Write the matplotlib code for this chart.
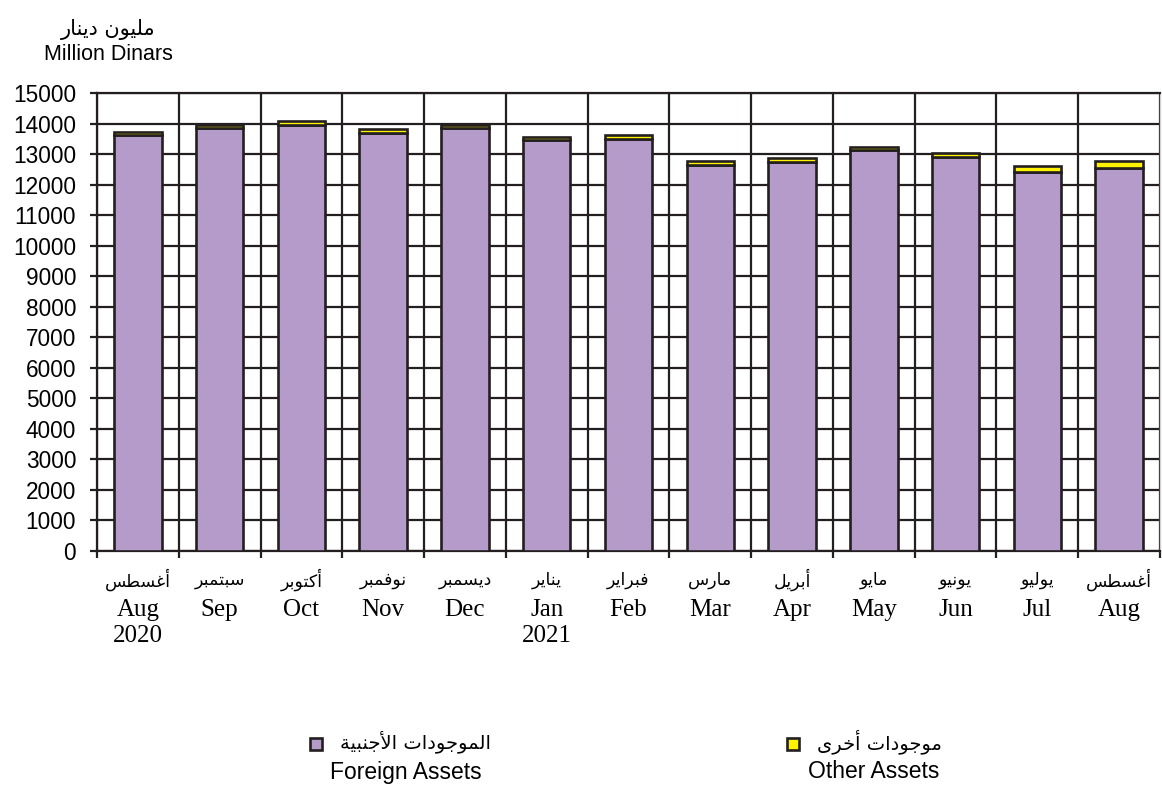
import matplotlib
matplotlib.use("Agg")
import matplotlib.pyplot as plt
from matplotlib.patches import Rectangle
from matplotlib.transforms import blended_transform_factory

# data (million dinars)
months_ar = ["أغسطس", "سبتمبر", "أكتوبر", "نوفمبر", "ديسمبر", "يناير", "فبراير",
             "مارس", "أبريل", "مايو", "يونيو", "يوليو", "أغسطس"]
months_en = ["Aug", "Sep", "Oct", "Nov", "Dec", "Jan", "Feb",
             "Mar", "Apr", "May", "Jun", "Jul", "Aug"]
years = {0: "2020", 5: "2021"}
foreign_assets = [13620, 13870, 13950, 13700, 13850, 13450, 13480,
                  12650, 12750, 13120, 12900, 12400, 12560]
other_assets = [100, 80, 120, 110, 100, 110, 140,
                120, 130, 110, 140, 210, 210]

PURPLE = "#B59BC9"
YELLOW = "#FFF200"
EDGE = "#231F20"

# matplotlib does no arabic shaping, so pick presentation forms by hand
FORMS = {
    'ا': ('\uFE8D', '\uFE8E', None, None),
    'أ': ('\uFE83', '\uFE84', None, None),
    'ب': ('\uFE8F', '\uFE90', '\uFE91', '\uFE92'),
    'ة': ('\uFE93', '\uFE94', None, None),
    'ت': ('\uFE95', '\uFE96', '\uFE97', '\uFE98'),
    'ج': ('\uFE9D', '\uFE9E', '\uFE9F', '\uFEA0'),
    'خ': ('\uFEA5', '\uFEA6', '\uFEA7', '\uFEA8'),
    'د': ('\uFEA9', '\uFEAA', None, None),
    'ر': ('\uFEAD', '\uFEAE', None, None),
    'س': ('\uFEB1', '\uFEB2', '\uFEB3', '\uFEB4'),
    'ط': ('\uFEC1', '\uFEC2', '\uFEC3', '\uFEC4'),
    'غ': ('\uFECD', '\uFECE', '\uFECF', '\uFED0'),
    'ف': ('\uFED1', '\uFED2', '\uFED3', '\uFED4'),
    'ك': ('\uFED9', '\uFEDA', '\uFEDB', '\uFEDC'),
    'ل': ('\uFEDD', '\uFEDE', '\uFEDF', '\uFEE0'),
    'م': ('\uFEE1', '\uFEE2', '\uFEE3', '\uFEE4'),
    'ن': ('\uFEE5', '\uFEE6', '\uFEE7', '\uFEE8'),
    'و': ('\uFEED', '\uFEEE', None, None),
    'ى': ('\uFEEF', '\uFEF0', None, None),
    'ي': ('\uFEF1', '\uFEF2', '\uFEF3', '\uFEF4'),
}
LAM_ALEF = {'ا': ('\uFEFB', '\uFEFC'), 'أ': ('\uFEF7', '\uFEF8')}


def shape(text):
    tokens = []
    i = 0
    while i < len(text):
        c = text[i]
        if c == 'ل' and i + 1 < len(text) and text[i + 1] in LAM_ALEF:
            tokens.append(('LA', text[i + 1]))
            i += 2
        else:
            tokens.append(('C', c))
            i += 1

    def is_ar(t):
        return t is not None and (t[0] == 'LA' or t[1] in FORMS)

    def joins_next(t):
        return t is not None and t[0] == 'C' and t[1] in FORMS and FORMS[t[1]][2] is not None

    out = []
    for j, tok in enumerate(tokens):
        prev = tokens[j - 1] if j > 0 else None
        nxt = tokens[j + 1] if j + 1 < len(tokens) else None
        jp = joins_next(prev)
        kind, c = tok
        if kind == 'LA':
            out.append(LAM_ALEF[c][1 if jp else 0])
            continue
        if c not in FORMS:
            out.append(c)
            continue
        f = FORMS[c]
        jn = f[2] is not None and is_ar(nxt)
        if jp and jn:
            out.append(f[3])
        elif jp:
            out.append(f[1])
        elif jn:
            out.append(f[2])
        else:
            out.append(f[0])
    return ''.join(out)[::-1]


AR = ["DejaVu Sans"]
SANS = ["Liberation Sans", "DejaVu Sans"]
SERIF = ["Liberation Serif", "DejaVu Serif"]

W, H = 1162, 785
fig = plt.figure(figsize=(W / 100, H / 100), dpi=100)
ax = fig.add_axes([97 / W, 1 - 551 / H, 1063 / W, 458 / H])

x = list(range(len(months_en)))
ax.bar(x, foreign_assets, width=0.58, color=PURPLE, edgecolor=EDGE, linewidth=1.9, zorder=3)
ax.bar(x, other_assets, width=0.58, bottom=foreign_assets, color=YELLOW,
       edgecolor=EDGE, linewidth=1.9, zorder=3)

ax.set_xlim(-0.5, len(x) - 0.5)
ax.set_ylim(0, 15000)
ax.set_yticks(range(0, 15001, 1000))
ax.set_yticklabels([str(v) for v in range(0, 15001, 1000)], family=SANS, fontsize=16.3)
ax.set_xticks([k - 0.5 for k in range(len(x) + 1)])
ax.set_xticklabels([])
ax.tick_params(axis="both", direction="out", length=5, width=1.6, color=EDGE)
ax.tick_params(axis="y", pad=10)
ax.grid(True, color=EDGE, linewidth=1.6, zorder=0)
for s in ax.spines.values():
    s.set_color(EDGE)
    s.set_linewidth(1.6)
ax.spines["right"].set_color("#d0d0d0")
ax.spines["right"].set_linewidth(1.0)

# category labels: arabic, english, year
tr = blended_transform_factory(ax.transData, fig.transFigure)
for i in x:
    ax.text(i, 1 - 580 / H, shape(months_ar[i]), transform=tr, ha="center", va="center",
            family=AR, fontsize=12.5)
    ax.text(i, 1 - 610 / H, months_en[i], transform=tr, ha="center", va="center",
            family=SERIF, fontsize=18)
    if i in years:
        ax.text(i, 1 - 636 / H, years[i], transform=tr, ha="center", va="center",
                family=SERIF, fontsize=18)

# unit label
fig.text(108 / W, 1 - 29 / H, shape("مليون دينار"), ha="center", va="center",
         family=AR, fontsize=15)
fig.text(108 / W, 1 - 54 / H, "Million Dinars", ha="center", va="center",
         family=SANS, fontsize=15.5)

# legend
legend_items = [
    (PURPLE, "الموجودات الأجنبية", "Foreign Assets", 316, 406),
    (YELLOW, "موجودات أخرى", "Other Assets", 793, 874),
]
for color, ar, en, sq_x, txt_x in legend_items:
    fig.patches.append(Rectangle(((sq_x - 6) / W, 1 - 750 / H), 12 / W, 12 / H,
                                 transform=fig.transFigure, facecolor=color,
                                 edgecolor=EDGE, linewidth=1.9))
    fig.text((sq_x + 24) / W, 1 - 742 / H, shape(ar), ha="left", va="center",
             family=AR, fontsize=14)
    fig.text(txt_x / W, 1 - 772 / H, en, ha="center", va="center",
             family=SANS, fontsize=16.5)

fig.savefig("out.png", dpi=100)
